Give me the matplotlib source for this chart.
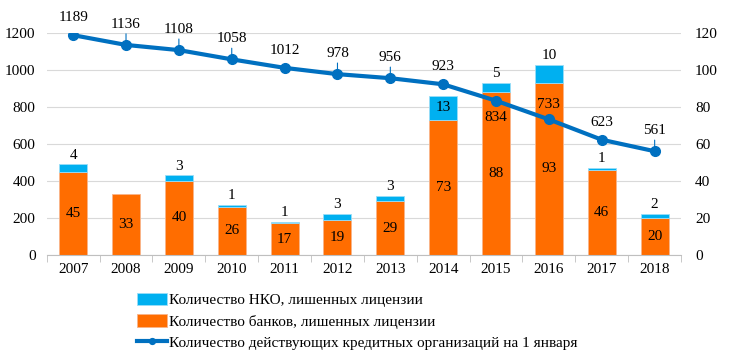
import matplotlib.pyplot as plt
import numpy as np

plt.rcParams['font.family'] = ['Liberation Serif', 'DejaVu Serif']

years = ['2007', '2008', '2009', '2010', '2011', '2012', '2013',
         '2014', '2015', '2016', '2017', '2018']
banks_revoked = [45, 33, 40, 26, 17, 19, 29, 73, 88, 93, 46, 20]
nko_revoked = [4, 0, 3, 1, 1, 3, 3, 13, 5, 10, 1, 2]
active_orgs = [1189, 1136, 1108, 1058, 1012, 978, 956, 923, 834, 733, 623, 561]

# смещения подписей линии (в пунктах) и выноски
line_label_dy = [8, 10, 10, 10, 8, 10, 10, 8, -17, 6, 8, 10]
leader = [False, True, True, True, False, True, True, False, False, False, False, True]

C_NKO = '#00B0F0'
C_BANK = '#FF6D00'
C_LINE = '#0070C0'
FS = 11

fig = plt.figure(figsize=(7.3, 3.56), dpi=100)
ax = fig.add_axes([0.064, 0.284, 0.869, 0.623])
ax2 = ax.twinx()

x = np.arange(len(years))
w = 0.53

# столбцы (правая ось)
b1 = ax.bar(x, banks_revoked, w, color=C_BANK, edgecolor='#F8B48A', linewidth=0.6,
            label='Количество банков, лишенных лицензии', zorder=2)
b2 = ax.bar(x, nko_revoked, w, bottom=banks_revoked, color=C_NKO, edgecolor='#9ADDF7',
            linewidth=0.6, label='Количество НКО, лишенных лицензии', zorder=2)
# у нулевых столбцов не рисуем контур
for patch, v in zip(b2.patches, nko_revoked):
    if v == 0:
        patch.set_visible(False)

for i in x:
    ax.text(i, banks_revoked[i] / 2, str(banks_revoked[i]), ha='center', va='center',
            fontsize=FS, zorder=3)
    if nko_revoked[i] == 0:
        continue
    if i == 7:
        ax.text(i, banks_revoked[i] + nko_revoked[i] / 2, str(nko_revoked[i]),
                ha='center', va='center', fontsize=FS, zorder=3)
    else:
        ax.text(i, banks_revoked[i] + nko_revoked[i] + 1.5, str(nko_revoked[i]),
                ha='center', va='bottom', fontsize=FS, zorder=3)

ax.set_ylim(0, 120)
ax.set_yticks(np.arange(0, 121, 20))
ax.yaxis.tick_right()
ax.set_xlim(-0.5, len(years) - 0.5)
ax.set_xticks(x)
ax.set_xticklabels(years)
ax.set_xticks(np.arange(-0.5, len(years), 1), minor=True)
ax.tick_params(axis='x', which='major', length=0, pad=6, labelsize=FS)
ax.tick_params(axis='x', which='minor', length=5, color='#BFBFBF')
ax.tick_params(axis='y', length=0, pad=10, labelsize=FS)
ax.grid(axis='y', color='#D9D9D9', linewidth=0.8, zorder=0)
ax.set_axisbelow(True)
for s in ['top', 'left', 'right']:
    ax.spines[s].set_visible(False)
    ax2.spines[s].set_visible(False)
ax.spines['bottom'].set_color('#BFBFBF')
ax2.spines['bottom'].set_visible(False)

# линия (левая ось)
ln, = ax2.plot(x, active_orgs, color=C_LINE, linewidth=3, marker='o', markersize=7,
               label='Количество действующих кредитных организаций на 1 января', zorder=4)
for i in x:
    ap = None
    if leader[i]:
        ap = dict(arrowstyle='-', color=C_LINE, lw=0.8, shrinkA=0, shrinkB=2)
    ax2.annotate(str(active_orgs[i]), (i, active_orgs[i]), xytext=(0, line_label_dy[i]),
                 textcoords='offset points', ha='center', va='bottom', fontsize=FS,
                 arrowprops=ap)
ax2.set_ylim(0, 1200)
ax2.set_yticks(np.arange(0, 1201, 200))
ax2.yaxis.tick_left()
ax2.tick_params(axis='y', length=0, pad=8, labelsize=FS)

fig.legend(handles=[b2, b1, ln], loc='upper left', bbox_to_anchor=(0.179, 0.195),
           frameon=False, fontsize=FS, handlelength=2.0, handletextpad=0.1,
           labelspacing=0.45, borderaxespad=0, handleheight=0.9, markerscale=0.6)

fig.savefig('out.png', dpi=100)
